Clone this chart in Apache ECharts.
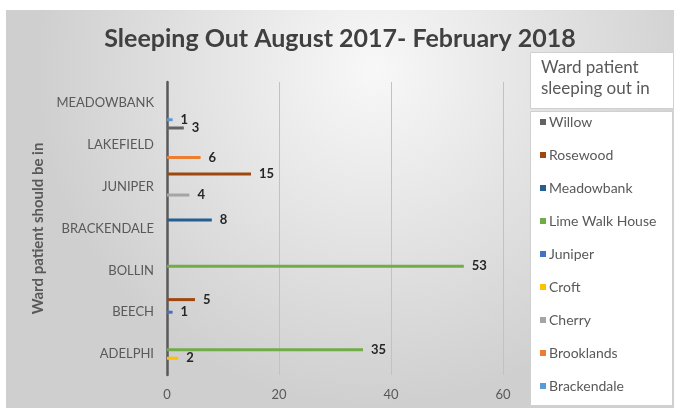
<!DOCTYPE html>
<html>
<head>
<meta charset="utf-8">
<script src="https://cdn.jsdelivr.net/npm/echarts@6/dist/echarts.min.js"></script>
<style>
  html, body { margin: 0; padding: 0; background: #fff; }
  #main { position: absolute; left: 6px; top: 10px; width: 668px; height: 398px; }
</style>
</head>
<body>
<div id="main"></div>
<script>
// wards patients should be in (bottom to top)
const categories = ['ADELPHI', 'BEECH', 'BOLLIN', 'BRACKENDALE', 'JUNIPER', 'LAKEFIELD', 'MEADOWBANK'];

// wards patients slept out in, one array per series
const willow = [null, null, null, null, null, 3, null];
const rosewood = [null, 5, null, null, 15, null, null];
const meadowbank = [null, null, null, 8, null, null, null];
const limeWalkHouse = [35, null, 53, null, null, null, null];
const juniper = [null, 1, null, null, null, null, null];
const croft = [2, null, null, null, null, null, null];
const cherry = [null, null, null, null, 4, null, null];
const brooklands = [null, null, null, null, null, 6, null];
const brackendale = [null, null, null, null, null, null, 1];

const xTicks = { min: 0, max: 60, interval: 20 };

const seriesDefs = [
  { name: 'Willow', data: willow, color: '#636363' },
  { name: 'Rosewood', data: rosewood, color: '#9e480e' },
  { name: 'Meadowbank', data: meadowbank, color: '#255e91' },
  { name: 'Lime Walk House', data: limeWalkHouse, color: '#70ad47' },
  { name: 'Juniper', data: juniper, color: '#4472c4' },
  { name: 'Croft', data: croft, color: '#ffc000' },
  { name: 'Cherry', data: cherry, color: '#a5a5a5' },
  { name: 'Brooklands', data: brooklands, color: '#ed7d31' },
  { name: 'Brackendale', data: brackendale, color: '#5b9bd5' },
];

const font = 'Lato, "Open Sans", sans-serif';
const chart = echarts.init(document.getElementById('main'));

const option = {
  backgroundColor: new echarts.graphic.RadialGradient(0.55, 0.15, 0.85, [
    { offset: 0, color: '#f8f8f8' },
    { offset: 1, color: '#cfcfcf' },
  ]),
  textStyle: { fontFamily: font },
  title: {
    text: 'Sleeping Out August 2017- February 2018',
    left: 'center',
    top: 11,
    textStyle: { fontSize: 25, fontWeight: 'bold', color: '#404040', fontFamily: font },
  },
  grid: { left: 161, top: 72, width: 336, height: 293 },
  xAxis: {
    type: 'value',
    min: xTicks.min,
    max: xTicks.max,
    interval: xTicks.interval,
    axisLine: { show: false },
    axisTick: { show: false },
    axisLabel: { color: '#595959', fontSize: 13, margin: 13 },
    splitLine: { lineStyle: { color: '#c2c2c2', width: 1 } },
  },
  yAxis: {
    type: 'category',
    data: categories,
    name: 'Ward patient should be in',
    nameLocation: 'middle',
    nameGap: 120,
    nameRotate: 90,
    nameTextStyle: { color: '#595959', fontSize: 15, fontWeight: 'bold' },
    axisLine: { lineStyle: { color: '#595959', width: 2.5 } },
    axisTick: { show: false },
    axisLabel: { color: '#595959', fontSize: 13, margin: 13 },
    splitLine: { show: false },
  },
  legend: {
    orient: 'vertical',
    left: 529,
    top: 100,
    icon: 'rect',
    itemWidth: 6,
    itemHeight: 6,
    itemGap: 19,
    textStyle: { color: '#595959', fontSize: 14, fontFamily: font, padding: [0, 0, 0, -2] },
    data: seriesDefs.map((s) => s.name),
  },
  graphic: [
    {
      type: 'rect',
      left: 524,
      top: 42,
      shape: { width: 143, height: 56 },
      style: { fill: '#fff', stroke: '#d0d0d0', lineWidth: 1 },
      z: -1,
    },
    {
      type: 'rect',
      left: 524,
      top: 101,
      shape: { width: 142, height: 294 },
      style: { fill: '#fff', stroke: '#d0d0d0', lineWidth: 1 },
      z: -1,
    },
    {
      type: 'text',
      left: 535,
      top: 47,
      style: {
        text: 'Ward patient\nsleeping out in',
        fill: '#595959',
        font: '17px ' + font,
        lineHeight: 21,
      },
    },
  ],
  series: seriesDefs.map((s) => ({
    name: s.name,
    type: 'bar',
    data: s.data,
    barWidth: 3,
    barGap: '40%',
    itemStyle: { color: s.color },
    label: {
      show: true,
      position: 'right',
      distance: 8,
      color: '#262626',
      fontWeight: 'bold',
      fontSize: 13,
    },
  })),
};

chart.setOption(option);
</script>
</body>
</html>
